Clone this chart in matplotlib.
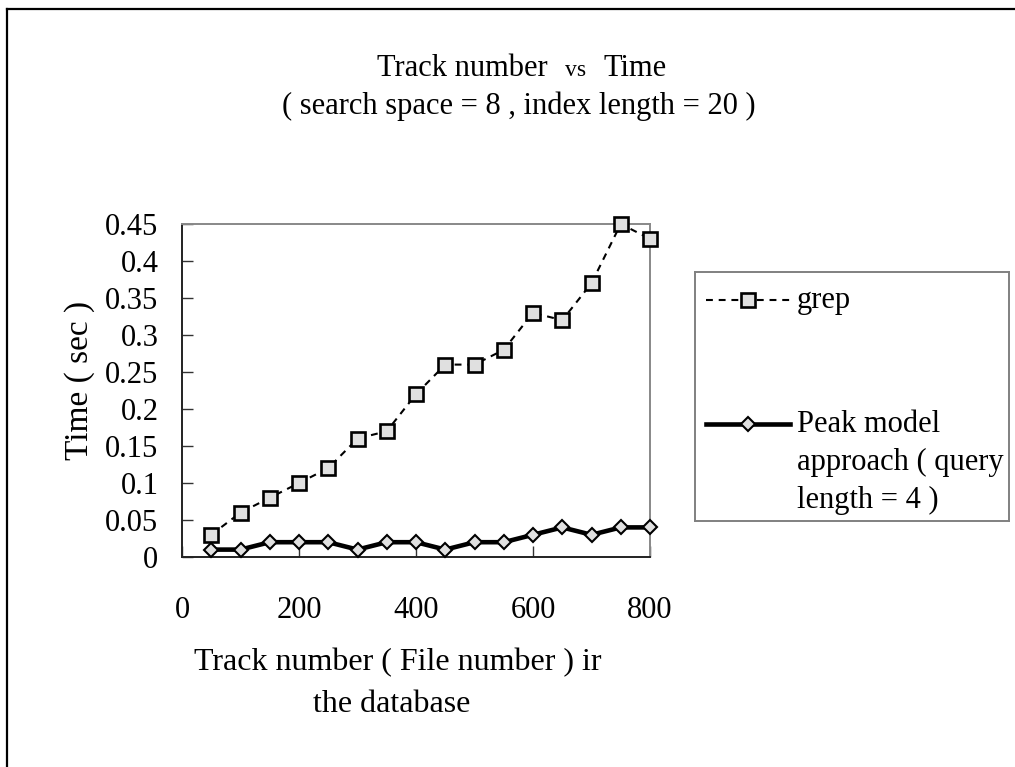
import matplotlib
matplotlib.use("Agg")
import matplotlib.pyplot as plt
from matplotlib.lines import Line2D

plt.rcParams['font.family'] = ['Liberation Serif', 'DejaVu Serif']

tracks = [50, 100, 150, 200, 250, 300, 350, 400, 450, 500, 550, 600, 650, 700, 750, 800]
grep_time = [0.03, 0.06, 0.08, 0.10, 0.12, 0.16, 0.17, 0.22, 0.26, 0.26, 0.28, 0.33, 0.32, 0.37, 0.45, 0.43]
peak_time = [0.01, 0.01, 0.02, 0.02, 0.02, 0.01, 0.02, 0.02, 0.01, 0.02, 0.02, 0.03, 0.04, 0.03, 0.04, 0.04]
x_ticks = [0, 200, 400, 600, 800]
y_ticks = [0, 0.05, 0.1, 0.15, 0.2, 0.25, 0.3, 0.35, 0.4, 0.45]
y_labels = ['0', '0.05', '0.1', '0.15', '0.2', '0.25', '0.3', '0.35', '0.4', '0.45']

W, H = 1015, 767
fig = plt.figure(figsize=(W / 100, H / 100), dpi=100)


def fx(px):
    return px / W


def fy(py):
    return 1 - py / H


DASH = (0, (3.3, 2.8))

# outer chart frame (only left and top edges visible)
fig.add_artist(Line2D([fx(7), fx(7)], [fy(9), 0], color='black', lw=1.6))
fig.add_artist(Line2D([fx(7), 1], [fy(9), fy(9)], color='black', lw=1.6))

ax = fig.add_axes([fx(182), fy(557), fx(650) - fx(182), fy(224) - fy(557)])
ax.plot(tracks, grep_time, color='black', lw=1.5, linestyle=DASH,
        marker='s', markersize=10, markerfacecolor='#e0e0e0',
        markeredgecolor='black', markeredgewidth=1.9, clip_on=False, zorder=3)
ax.plot(tracks, peak_time, color='black', lw=3.3, linestyle='-',
        marker='D', markersize=7.5, markerfacecolor='#e0e0e0',
        markeredgecolor='black', markeredgewidth=1.5, clip_on=False, zorder=4)

ax.set_xlim(0, 800)
ax.set_ylim(0, 0.45)
ax.set_xticks(x_ticks)
ax.set_yticks(y_ticks)
ax.set_yticklabels(y_labels)
ax.tick_params(direction='in', length=8, width=1, colors='#333333', labelcolor='black',
               labelsize=22)
ax.tick_params(axis='y', pad=17)
ax.tick_params(axis='x', pad=28)
for s in ['left', 'bottom']:
    ax.spines[s].set_color('#222222')
    ax.spines[s].set_linewidth(1.4)
for s in ['top', 'right']:
    ax.spines[s].set_color('#888888')
    ax.spines[s].set_linewidth(1.4)

# titles
fig.text(fx(548), fy(76), 'Track number', ha='right', va='baseline', fontsize=22)
fig.text(fx(576), fy(76), 'vs', ha='center', va='baseline', fontsize=17)
fig.text(fx(604), fy(76), 'Time', ha='left', va='baseline', fontsize=22)
fig.text(fx(519), fy(106), '( search space = 8 , index length = 20 )', ha='center', va='center',
         fontsize=22)

fig.text(fx(80), fy(380), 'Time ( sec )', rotation=90, ha='center', va='center', fontsize=24)
fig.text(fx(398), fy(663), 'Track number ( File number ) ir', ha='center', va='center', fontsize=23)
fig.text(fx(392), fy(705), 'the database', ha='center', va='center', fontsize=23)

# legend box
lax = fig.add_axes([fx(695), fy(521), fx(1009) - fx(695), fy(272) - fy(521)])
lax.set_xlim(695, 1009)
lax.set_ylim(521, 272)
lax.set_xticks([])
lax.set_yticks([])
for s in lax.spines.values():
    s.set_color('#808080')
    s.set_linewidth(1.4)
lax.add_line(Line2D([706, 790], [300, 300], color='black', lw=1.5, linestyle=DASH))
lax.add_line(Line2D([748], [300], marker='s', markersize=10, markerfacecolor='#e0e0e0',
                    markeredgecolor='black', markeredgewidth=1.9))
lax.text(797, 300, 'grep', ha='left', va='center', fontsize=22)
lax.add_line(Line2D([706, 790], [424, 424], color='black', lw=3.3))
lax.add_line(Line2D([748], [424], marker='D', markersize=7.5, markerfacecolor='#e0e0e0',
                    markeredgecolor='black', markeredgewidth=1.5))
lax.text(797, 424, 'Peak model', ha='left', va='center', fontsize=22)
lax.text(797, 462, 'approach ( query', ha='left', va='center', fontsize=22)
lax.text(797, 500, 'length = 4 )', ha='left', va='center', fontsize=22)

fig.savefig('out.png', dpi=100)
